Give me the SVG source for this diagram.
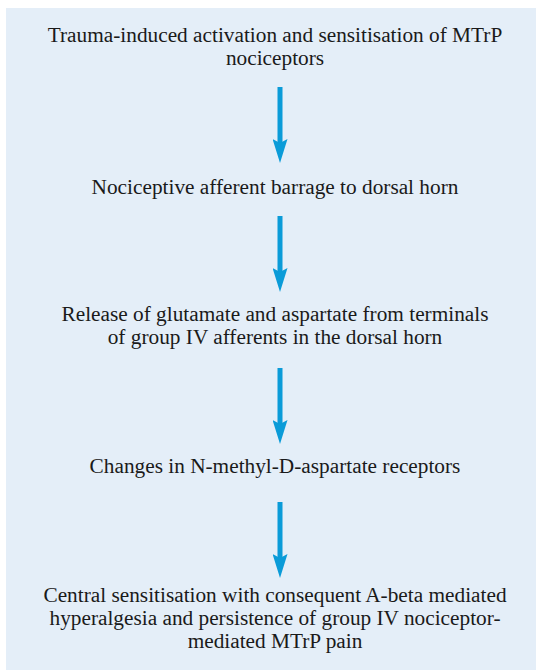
<svg xmlns="http://www.w3.org/2000/svg" width="536" height="670" viewBox="0 0 536 670">
  <style>
    .bg { fill: #e4eef8; }
    .t { font-family: "Liberation Serif", "Times New Roman", serif; font-size: 21.3px; fill: #1a1a1a; text-anchor: middle; }
    .arrow { stroke: #0a9bd8; stroke-width: 5; fill: none; marker-end: url(#head); }
  </style>
  <defs>
    <marker id="head" markerUnits="userSpaceOnUse" markerWidth="24" markerHeight="15" viewBox="0 0 24 15" refX="4" refY="7.5" orient="auto">
      <path d="M0,0 L24,7.5 L0,15 L4,7.5 Z" fill="#0a9bd8"/>
    </marker>
  </defs>
  <rect class="bg" x="6" y="8" width="530" height="662"/>
  <g id="connectors">
    <line class="arrow" x1="280" y1="87" x2="280" y2="143"/>
    <line class="arrow" x1="280" y1="216" x2="280" y2="272"/>
    <line class="arrow" x1="280" y1="368" x2="280" y2="424"/>
    <line class="arrow" x1="280" y1="502" x2="280" y2="558"/>
  </g>
  <g id="node1">
    <text class="t" x="275" y="42">Trauma-induced activation and sensitisation of MTrP</text>
    <text class="t" x="275" y="65">nociceptors</text>
  </g>
  <g id="node2">
    <text class="t" x="275" y="194">Nociceptive afferent barrage to dorsal horn</text>
  </g>
  <g id="node3">
    <text class="t" x="275" y="321">Release of glutamate and aspartate from terminals</text>
    <text class="t" x="275" y="344">of group IV afferents in the dorsal horn</text>
  </g>
  <g id="node4">
    <text class="t" x="275" y="473">Changes in N-methyl-D-aspartate receptors</text>
  </g>
  <g id="node5">
    <text class="t" x="275" y="602">Central sensitisation with consequent A-beta mediated</text>
    <text class="t" x="275" y="625">hyperalgesia and persistence of group IV nociceptor-</text>
    <text class="t" x="275" y="648">mediated MTrP pain</text>
  </g>
</svg>
